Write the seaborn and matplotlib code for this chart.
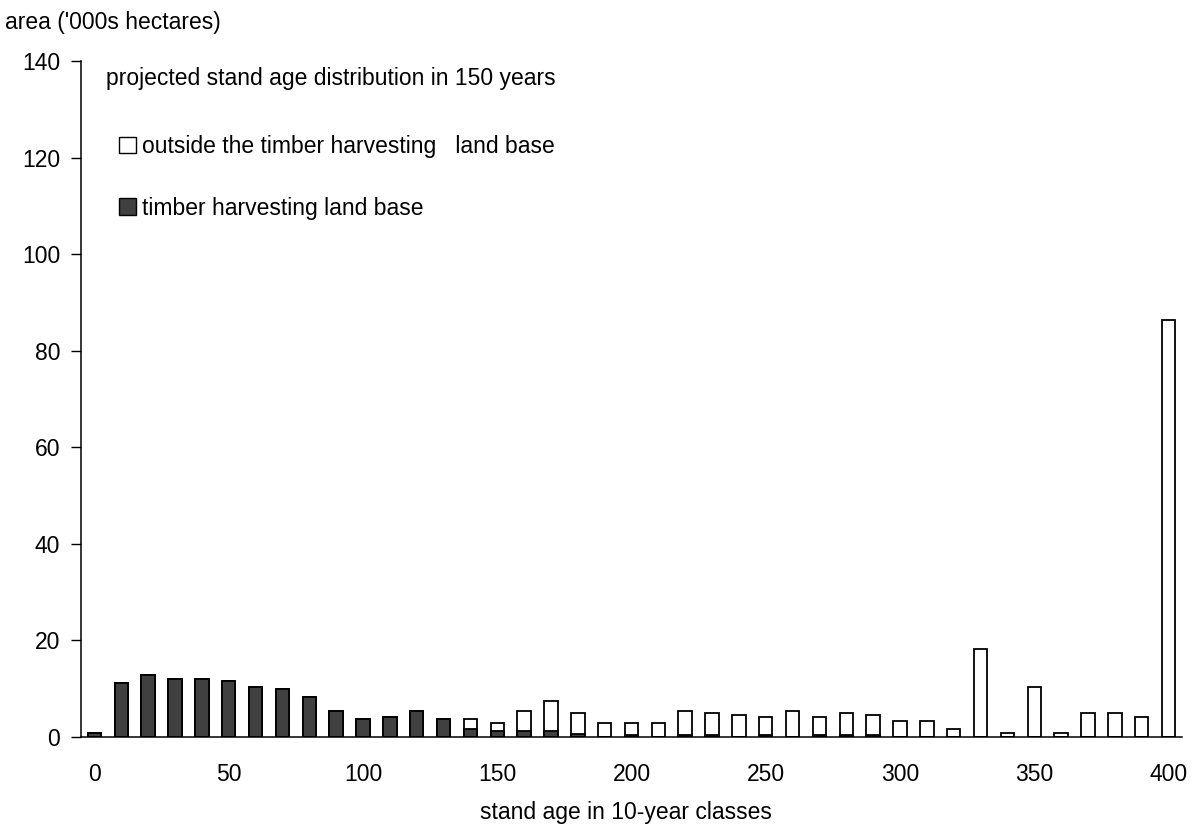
import matplotlib.pyplot as plt
import pandas as pd
import seaborn as sns
from matplotlib.patches import Patch

# stand age classes (years)
ages = [0, 10, 20, 30, 40, 50, 60, 70, 80, 90,
        100, 110, 120, 130, 140, 150, 160, 170, 180, 190,
        200, 210, 220, 230, 240, 250, 260, 270, 280, 290,
        300, 310, 320, 330, 340, 350, 360, 370, 380, 390, 400]

# area in '000s hectares
thlb = [0.8, 11.2, 12.9, 12.0, 12.0, 11.6, 10.4, 10.0, 8.3, 5.4,
        3.7, 4.1, 5.4, 3.7, 1.7, 1.3, 1.3, 1.3, 0.6, 0.0,
        0.5, 0.0, 0.5, 0.5, 0.0, 0.5, 0.0, 0.5, 0.5, 0.4,
        0.0, 0.0, 0.0, 0.0, 0.0, 0.0, 0.0, 0.0, 0.0, 0.0, 0.0]
outside = [0.0, 0.0, 0.0, 0.0, 0.0, 0.0, 0.0, 0.0, 0.0, 0.0,
           0.0, 0.0, 0.0, 0.0, 2.0, 1.6, 4.1, 6.2, 4.4, 2.9,
           2.4, 2.9, 4.9, 4.5, 4.6, 3.7, 5.4, 3.7, 4.5, 4.2,
           3.3, 3.3, 1.7, 18.3, 0.9, 10.4, 0.9, 5.0, 5.0, 4.2, 86.3]

tick_labels = ["0", "50", "100", "150", "200", "250", "300", "350", "400"]

df = pd.DataFrame({"age": [str(a) for a in ages], "thlb": thlb, "outside": outside})
df["total"] = df["thlb"] + df["outside"]
order = list(df["age"])

sns.set_theme(style="white")
plt.rcParams["font.family"] = ["Liberation Sans", "DejaVu Sans"]
for k in ["text.color", "axes.labelcolor", "xtick.color", "ytick.color"]:
    plt.rcParams[k] = "black"

fs = 16.5
W, H = 1193, 833

fig = plt.figure(figsize=(W / 100, H / 100), dpi=100)
ax = fig.add_axes([81 / W, 1 - 737 / H, (1182 - 81) / W, (737 - 61) / H])

dark = "#404040"
# outside bars drawn as full stack height, timber harvesting part overlaid
sns.barplot(data=df, x="age", y="total", order=order, color="white",
            edgecolor="black", linewidth=1.3, width=0.5, saturation=1, ax=ax)
sns.barplot(data=df, x="age", y="thlb", order=order, color=dark,
            edgecolor="black", linewidth=1.3, width=0.5, saturation=1, ax=ax)

ax.set_ylim(0, 140)
ax.set_yticks(range(0, 141, 20))
ax.set_xlim(-0.5, len(ages) - 0.5)
ax.set_xticks([i for i, a in enumerate(ages) if str(a) in tick_labels])
ax.set_xticklabels(tick_labels)
ax.tick_params(axis="y", direction="out", length=7, width=1,
               left=True, labelsize=fs, pad=8)
ax.tick_params(axis="x", length=0, labelsize=fs, pad=19)
for s in ["top", "right"]:
    ax.spines[s].set_visible(False)
for s in ["left", "bottom"]:
    ax.spines[s].set_color("black")
    ax.spines[s].set_linewidth(1.1)

ax.set_xlabel("")
ax.set_ylabel("")
fig.text(5 / W, 1 - 22 / H, "area ('000s hectares)", fontsize=fs, ha="left", va="center")
fig.text(626 / W, 1 - 813 / H, "stand age in 10-year classes", fontsize=fs,
         ha="center", va="center")
fig.text(106 / W, 1 - 79 / H, "projected stand age distribution in 150 years",
         fontsize=fs, ha="left", va="center")

handles = [
    Patch(facecolor="white", edgecolor="black", linewidth=1.0,
          label="outside the timber harvesting   land base"),
    Patch(facecolor=dark, edgecolor="black", linewidth=1.0,
          label="timber harvesting land base"),
]
fig.legend(handles=handles, loc="upper left", bbox_to_anchor=(119 / W, 1 - 135 / H),
           frameon=False, fontsize=fs, handlelength=0.75, handleheight=0.75,
           handletextpad=0.25, labelspacing=1.68, borderpad=0, borderaxespad=0)

fig.savefig("out.png", dpi=100)
